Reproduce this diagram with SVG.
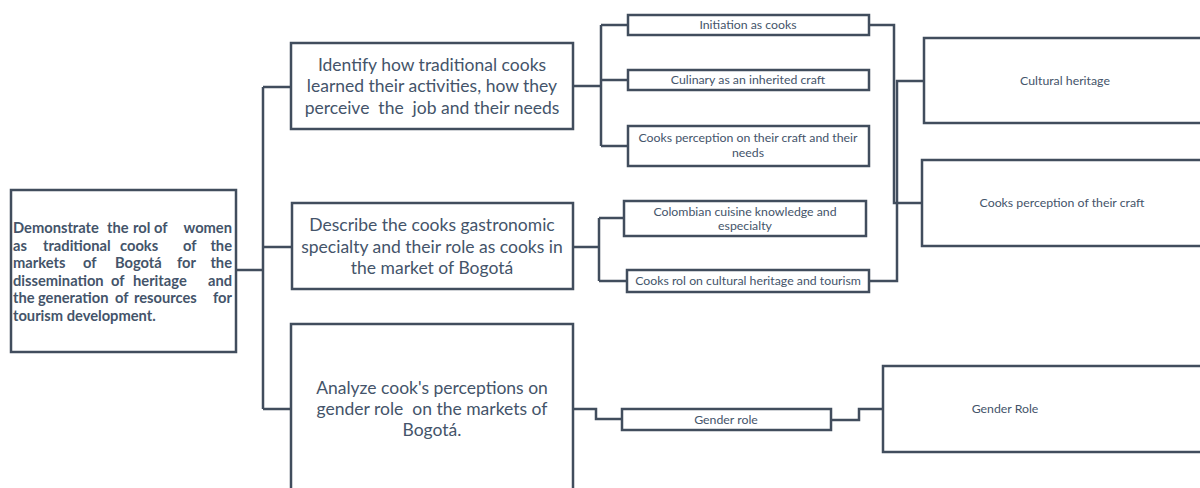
<svg xmlns="http://www.w3.org/2000/svg" width="1200" height="488" viewBox="0 0 1200 488">
<style>
.b{fill:#fff;stroke:#414d5d;stroke-width:2.5}
.c{fill:none;stroke:#414d5d;stroke-width:2.5}
text{font-family:Lato,"Open Sans","Liberation Sans",sans-serif;fill:#44546a}
.m{font-size:17.5px;text-anchor:middle}
.s{font-size:12.3px;text-anchor:middle}
.k{font-size:14.7px;font-weight:bold}
.e{text-anchor:end}
</style>
<rect width="1200" height="488" fill="#fff"/>
<g id="connectors">
<path class="c" d="M236,270 H264 M263,87 V409 M263,87 H291 M263,247 H292 M263,409 H291"/>
<path class="c" d="M573,86 H601 M601,25 V146 M601,25 H628 M601,80 H628 M601,146 H628"/>
<path class="c" d="M573,247 H599 M599,218 V281 M599,218 H624 M599,281 H627"/>
<path class="c" d="M573,409 H596 V419 H622"/>
<path class="c" d="M831,420 H859 V409 H883"/>
<path class="c" d="M869,25 H894 V203 H922"/>
<path class="c" d="M869,281 H897 V81 H924"/>
</g>
<g id="main">
<rect class="b" x="11" y="190" width="225" height="162"/>
<text class="k" y="233"><tspan x="13">Demonstrate</tspan><tspan x="107">the</tspan><tspan x="133">rol</tspan><tspan x="154">of</tspan><tspan x="232" class="e">women</tspan></text>
<text class="k" y="251"><tspan x="13">as</tspan><tspan x="43">traditional</tspan><tspan x="120">cooks</tspan><tspan x="183">of</tspan><tspan x="232" class="e">the</tspan></text>
<text class="k" y="268"><tspan x="13">markets</tspan><tspan x="83">of</tspan><tspan x="115">Bogotá</tspan><tspan x="177">for</tspan><tspan x="232" class="e">the</tspan></text>
<text class="k" y="286"><tspan x="13">dissemination</tspan><tspan x="111">of</tspan><tspan x="133">heritage</tspan><tspan x="232" class="e">and</tspan></text>
<text class="k" y="303"><tspan x="13">the</tspan><tspan x="38">generation</tspan><tspan x="115">of</tspan><tspan x="134">resources</tspan><tspan x="232" class="e">for</tspan></text>
<text class="k" y="321" x="13">tourism development.</text>
</g>
<g id="obj1">
<rect class="b" x="291" y="43" width="282" height="86"/>
<text class="m" x="432" y="71">Identify how traditional cooks</text>
<text class="m" x="432" y="92">learned their activities, how they</text>
<text class="m" x="432" y="114" xml:space="preserve">perceive  the  job and their needs</text>
</g>
<g id="obj2">
<rect class="b" x="292" y="203" width="281" height="86"/>
<text class="m" x="432" y="231">Describe the cooks gastronomic</text>
<text class="m" x="432" y="253">specialty and their role as cooks in</text>
<text class="m" x="432" y="274">the market of Bogotá</text>
</g>
<g id="obj3">
<rect class="b" x="291" y="324" width="282" height="180"/>
<text class="m" x="432" y="394">Analyze cook's perceptions on</text>
<text class="m" x="432" y="415" xml:space="preserve">gender role  on the markets of</text>
<text class="m" x="432" y="436">Bogotá.</text>
</g>
<g id="initiation">
<rect class="b" x="628" y="15" width="241" height="20"/>
<text class="s" x="748" y="29">Initiation as cooks</text>
</g>
<g id="culinary">
<rect class="b" x="628" y="70" width="241" height="20"/>
<text class="s" x="748" y="84">Culinary as an inherited craft</text>
</g>
<g id="perception-needs">
<rect class="b" x="628" y="126" width="241" height="40"/>
<text class="s" x="748" y="142">Cooks perception on their craft and their</text>
<text class="s" x="748" y="157">needs</text>
</g>
<g id="colombian">
<rect class="b" x="624" y="201" width="242" height="35"/>
<text class="s" x="745" y="216">Colombian cuisine knowledge and</text>
<text class="s" x="745" y="230">especialty</text>
</g>
<g id="cooks-rol">
<rect class="b" x="627" y="270" width="242" height="22"/>
<text class="s" x="748" y="285">Cooks rol on cultural heritage and tourism</text>
</g>
<g id="gender-role">
<rect class="b" x="622" y="409" width="209" height="21"/>
<text class="s" x="726" y="424">Gender role</text>
</g>
<g id="cultural-heritage">
<rect class="b" x="924" y="38" width="290" height="85"/>
<text class="s" x="1065" y="85">Cultural heritage</text>
</g>
<g id="perception-craft">
<rect class="b" x="922" y="160" width="290" height="86"/>
<text class="s" x="1062" y="207">Cooks perception of their craft</text>
</g>
<g id="gender-role-cat">
<rect class="b" x="883" y="366" width="330" height="86"/>
<text class="s" x="1005" y="413">Gender Role</text>
</g>
</svg>
